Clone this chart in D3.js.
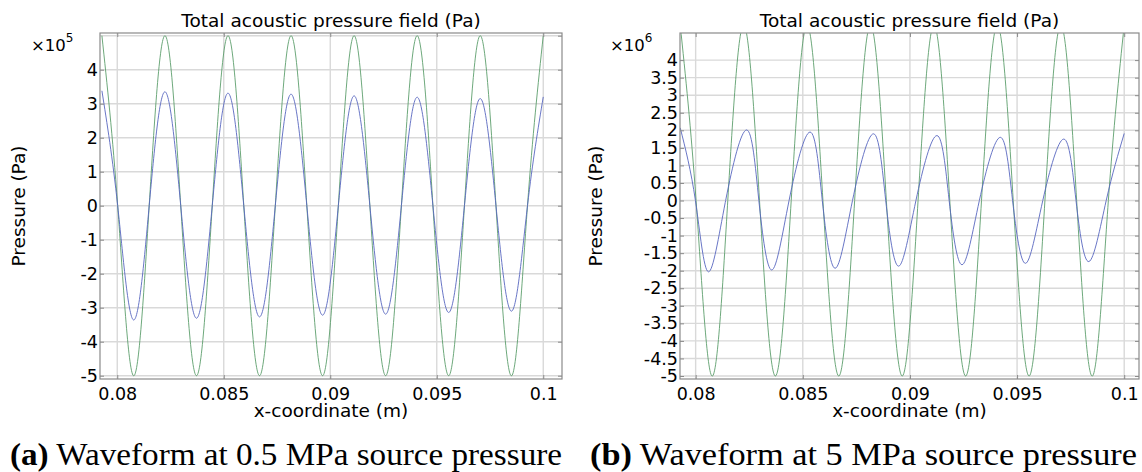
<!DOCTYPE html>
<html>
<head>
<meta charset="utf-8">
<script src="https://cdn.jsdelivr.net/npm/d3@7"></script>
<style>
  body { margin: 0; background: #fff; }
  text { font-family: "DejaVu Sans", sans-serif; fill: #000; }
  .caption { font-family: "Liberation Serif", serif; }
</style>
</head>
<body>
<div id="my_dataviz"></div>
<script>
// x axis tick labels (m), shared by both plots
var xTicks = [0.08, 0.085, 0.09, 0.095, 0.1];

// y ticks: plot (a) in 1e5 Pa, plot (b) in 1e6 Pa
var yTicksA = [-5, -4, -3, -2, -1, 0, 1, 2, 3, 4];
var yGridA = [-5, -4, -3, -2, -1, 0, 1, 2, 3, 4, 5];
var yTicksB = [-5, -4.5, -4, -3.5, -3, -2.5, -2, -1.5, -1, -0.5, 0, 0.5, 1, 1.5, 2, 2.5, 3, 3.5, 4];

// green curve, (a) in 1e5 Pa : [x (m), pressure]
var greenA = [
  [0.07928, 5], [0.08002, 0], [0.08076, -5], [0.0815, 0],
  [0.08224, 5], [0.08298, 0], [0.08372, -5], [0.08446, 0],
  [0.0852, 5], [0.08594, 0], [0.08668, -5], [0.08742, 0],
  [0.08816, 5], [0.0889, 0], [0.08964, -5], [0.09038, 0],
  [0.09112, 5], [0.09186, 0], [0.0926, -5], [0.09334, 0],
  [0.09408, 5], [0.09482, 0], [0.09556, -5], [0.0963, 0],
  [0.09704, 5], [0.09778, 0], [0.09852, -5], [0.09926, 0],
  [0.1, 5]
];

// blue curve, (a) in 1e5 Pa
var blueA = [
  [0.07928, 3.38], [0.08002, 0], [0.08076, -3.36], [0.0815, 0],
  [0.08224, 3.35], [0.08298, 0], [0.08372, -3.31], [0.08446, 0],
  [0.0852, 3.31], [0.08594, 0], [0.08668, -3.27], [0.08742, 0],
  [0.08816, 3.28], [0.0889, 0], [0.08964, -3.22], [0.09038, 0],
  [0.09112, 3.23], [0.09186, 0], [0.0926, -3.19], [0.09334, 0],
  [0.09408, 3.19], [0.09482, 0], [0.09556, -3.14], [0.0963, 0],
  [0.09704, 3.15], [0.09778, 0], [0.09852, -3.10], [0.09926, 0],
  [0.1, 3.2]
];

// green curve, (b) in 1e6 Pa (peaks run past the top of the axis)
var greenB = [
  [0.07928, 5], [0.08002, 0], [0.08076, -5], [0.0815, 0],
  [0.08224, 5], [0.08298, 0], [0.08372, -5], [0.08446, 0],
  [0.0852, 5], [0.08594, 0], [0.08668, -5], [0.08742, 0],
  [0.08816, 5], [0.0889, 0], [0.08964, -5], [0.09038, 0],
  [0.09112, 5], [0.09186, 0], [0.0926, -5], [0.09334, 0],
  [0.09408, 5], [0.09482, 0], [0.09556, -5], [0.0963, 0],
  [0.09704, 5], [0.09778, 0], [0.09852, -5], [0.09926, 0],
  [0.1, 5]
];

// blue curve, (b) in 1e6 Pa
var blueB = [
  [0.07928, 2.07], [0.07999, 0], [0.08059, -2.03], [0.0814, 0],
  [0.08238, 2.01], [0.08295, 0], [0.08355, -1.98], [0.08436, 0],
  [0.08534, 1.95], [0.08591, 0], [0.08651, -1.93], [0.08732, 0],
  [0.0883, 1.90], [0.08887, 0], [0.08947, -1.87], [0.09028, 0],
  [0.09126, 1.85], [0.09183, 0], [0.09243, -1.83], [0.09324, 0],
  [0.09422, 1.80], [0.09479, 0], [0.09539, -1.79], [0.0962, 0],
  [0.09718, 1.75], [0.09775, 0], [0.09835, -1.74], [0.09916, 0],
  [0.1, 1.91]
];

var captionLabels = ["(a)", "(b)"];
var captionTexts = ["Waveform at 0.5 MPa source pressure", "Waveform at 5 MPa source pressure"];
var exponents = ["5", "6"];

var svg = d3.select("#my_dataviz")
  .append("svg")
  .attr("width", 1142)
  .attr("height", 472);

var panels = [
  {left: 100, right: 562, top: 33, bottom: 379,
   xDomain: [0.07919, 0.10088], yDomain: [-5.097, 5.079],
   yTicks: yTicksA, yGrid: yGridA, green: greenA, blue: blueA,
   ylabX: 24.5, expX: 31, capX: 10, capW: 552},
  {left: 680, right: 1139, top: 33, bottom: 379,
   xDomain: [0.07927, 0.10069], yDomain: [-5.085, 4.772],
   yTicks: yTicksB, yGrid: yTicksB, green: greenB, blue: blueB,
   ylabX: 602, expX: 610, capX: 590, capW: 547}
];

panels.forEach(function(p, i) {
  var x = d3.scaleLinear().domain(p.xDomain).range([p.left, p.right]);
  var y = d3.scaleLinear().domain(p.yDomain).range([p.bottom, p.top]);
  var g = svg.append("g");

  // grid
  g.selectAll(".vgrid").data(xTicks).enter().append("line")
    .attr("x1", function(d) { return x(d); }).attr("x2", function(d) { return x(d); })
    .attr("y1", p.top).attr("y2", p.bottom)
    .style("stroke", "#d9d9d9").style("stroke-width", 1.4);
  g.selectAll(".hgrid").data(p.yGrid).enter().append("line")
    .attr("y1", function(d) { return y(d); }).attr("y2", function(d) { return y(d); })
    .attr("x1", p.left).attr("x2", p.right)
    .style("stroke", "#d9d9d9").style("stroke-width", 1.4);

  // curves
  var clipId = "clip" + i;
  svg.append("clipPath").attr("id", clipId).append("rect")
    .attr("x", p.left).attr("y", p.top)
    .attr("width", p.right - p.left).attr("height", p.bottom - p.top);

  var line = d3.line()
    .x(function(d) { return x(d[0]); })
    .y(function(d) { return y(d[1]); })
    .curve(d3.curveNatural);

  g.append("path").datum(p.green)
    .attr("d", line).attr("clip-path", "url(#" + clipId + ")")
    .style("fill", "none").style("stroke", "#5c9e6c").style("stroke-width", 0.9);
  g.append("path").datum(p.blue)
    .attr("d", line).attr("clip-path", "url(#" + clipId + ")")
    .style("fill", "none").style("stroke", "#5867bf").style("stroke-width", 0.9);

  // axes, ticks pointing inwards
  var xAxis = g.append("g").attr("transform", "translate(0," + p.bottom + ")")
    .call(d3.axisBottom(x).tickValues(xTicks).tickSize(-4).tickPadding(9)
      .tickFormat(function(d) { return String(d); }));
  var yAxis = g.append("g").attr("transform", "translate(" + p.left + ",0)")
    .call(d3.axisLeft(y).tickValues(p.yTicks).tickSize(-4).tickPadding(2)
      .tickFormat(function(d) { return String(d); }));
  var xTop = g.append("g").attr("transform", "translate(0," + p.top + ")")
    .call(d3.axisTop(x).tickValues(xTicks).tickSize(-4).tickFormat(""));
  var yRight = g.append("g").attr("transform", "translate(" + p.right + ",0)")
    .call(d3.axisRight(y).tickValues(p.yGrid).tickSize(-4).tickFormat(""));

  [xAxis, yAxis, xTop, yRight].forEach(function(a) {
    a.selectAll("path").remove();
    a.selectAll("line").style("stroke", "#8a8a8a");
    a.selectAll("text").style("font-family", "DejaVu Sans, sans-serif")
      .style("font-size", "17.5px").style("fill", "#000");
  });

  // frame
  g.append("rect")
    .attr("x", p.left).attr("y", p.top)
    .attr("width", p.right - p.left).attr("height", p.bottom - p.top)
    .style("fill", "none").style("stroke", "#8a8a8a").style("stroke-width", 1.2);

  // title and labels
  g.append("text")
    .attr("x", (p.left + p.right) / 2).attr("y", 26.5)
    .attr("text-anchor", "middle").style("font-size", "18.5px")
    .text("Total acoustic pressure field (Pa)");
  g.append("text")
    .attr("x", (p.left + p.right) / 2).attr("y", 416.5)
    .attr("text-anchor", "middle").style("font-size", "18.5px")
    .text("x-coordinate (m)");
  g.append("text")
    .attr("transform", "translate(" + p.ylabX + "," + (p.top + p.bottom) / 2 + ") rotate(-90)")
    .attr("text-anchor", "middle").style("font-size", "18.5px")
    .text("Pressure (Pa)");

  var ex = g.append("text")
    .attr("x", p.expX).attr("y", 50.5).style("font-size", "16.5px");
  ex.append("tspan").text("\u00d710");
  ex.append("tspan").attr("dy", -9).style("font-size", "12px").text(exponents[i]);

  // caption
  var cap = g.append("text").attr("class", "caption")
    .attr("x", p.capX).attr("y", 465).style("font-size", "31.5px")
    .attr("textLength", p.capW).attr("lengthAdjust", "spacingAndGlyphs");
  cap.append("tspan").style("font-weight", "bold").text(captionLabels[i]);
  cap.append("tspan").text(" " + captionTexts[i]);
});
</script>
</body>
</html>
